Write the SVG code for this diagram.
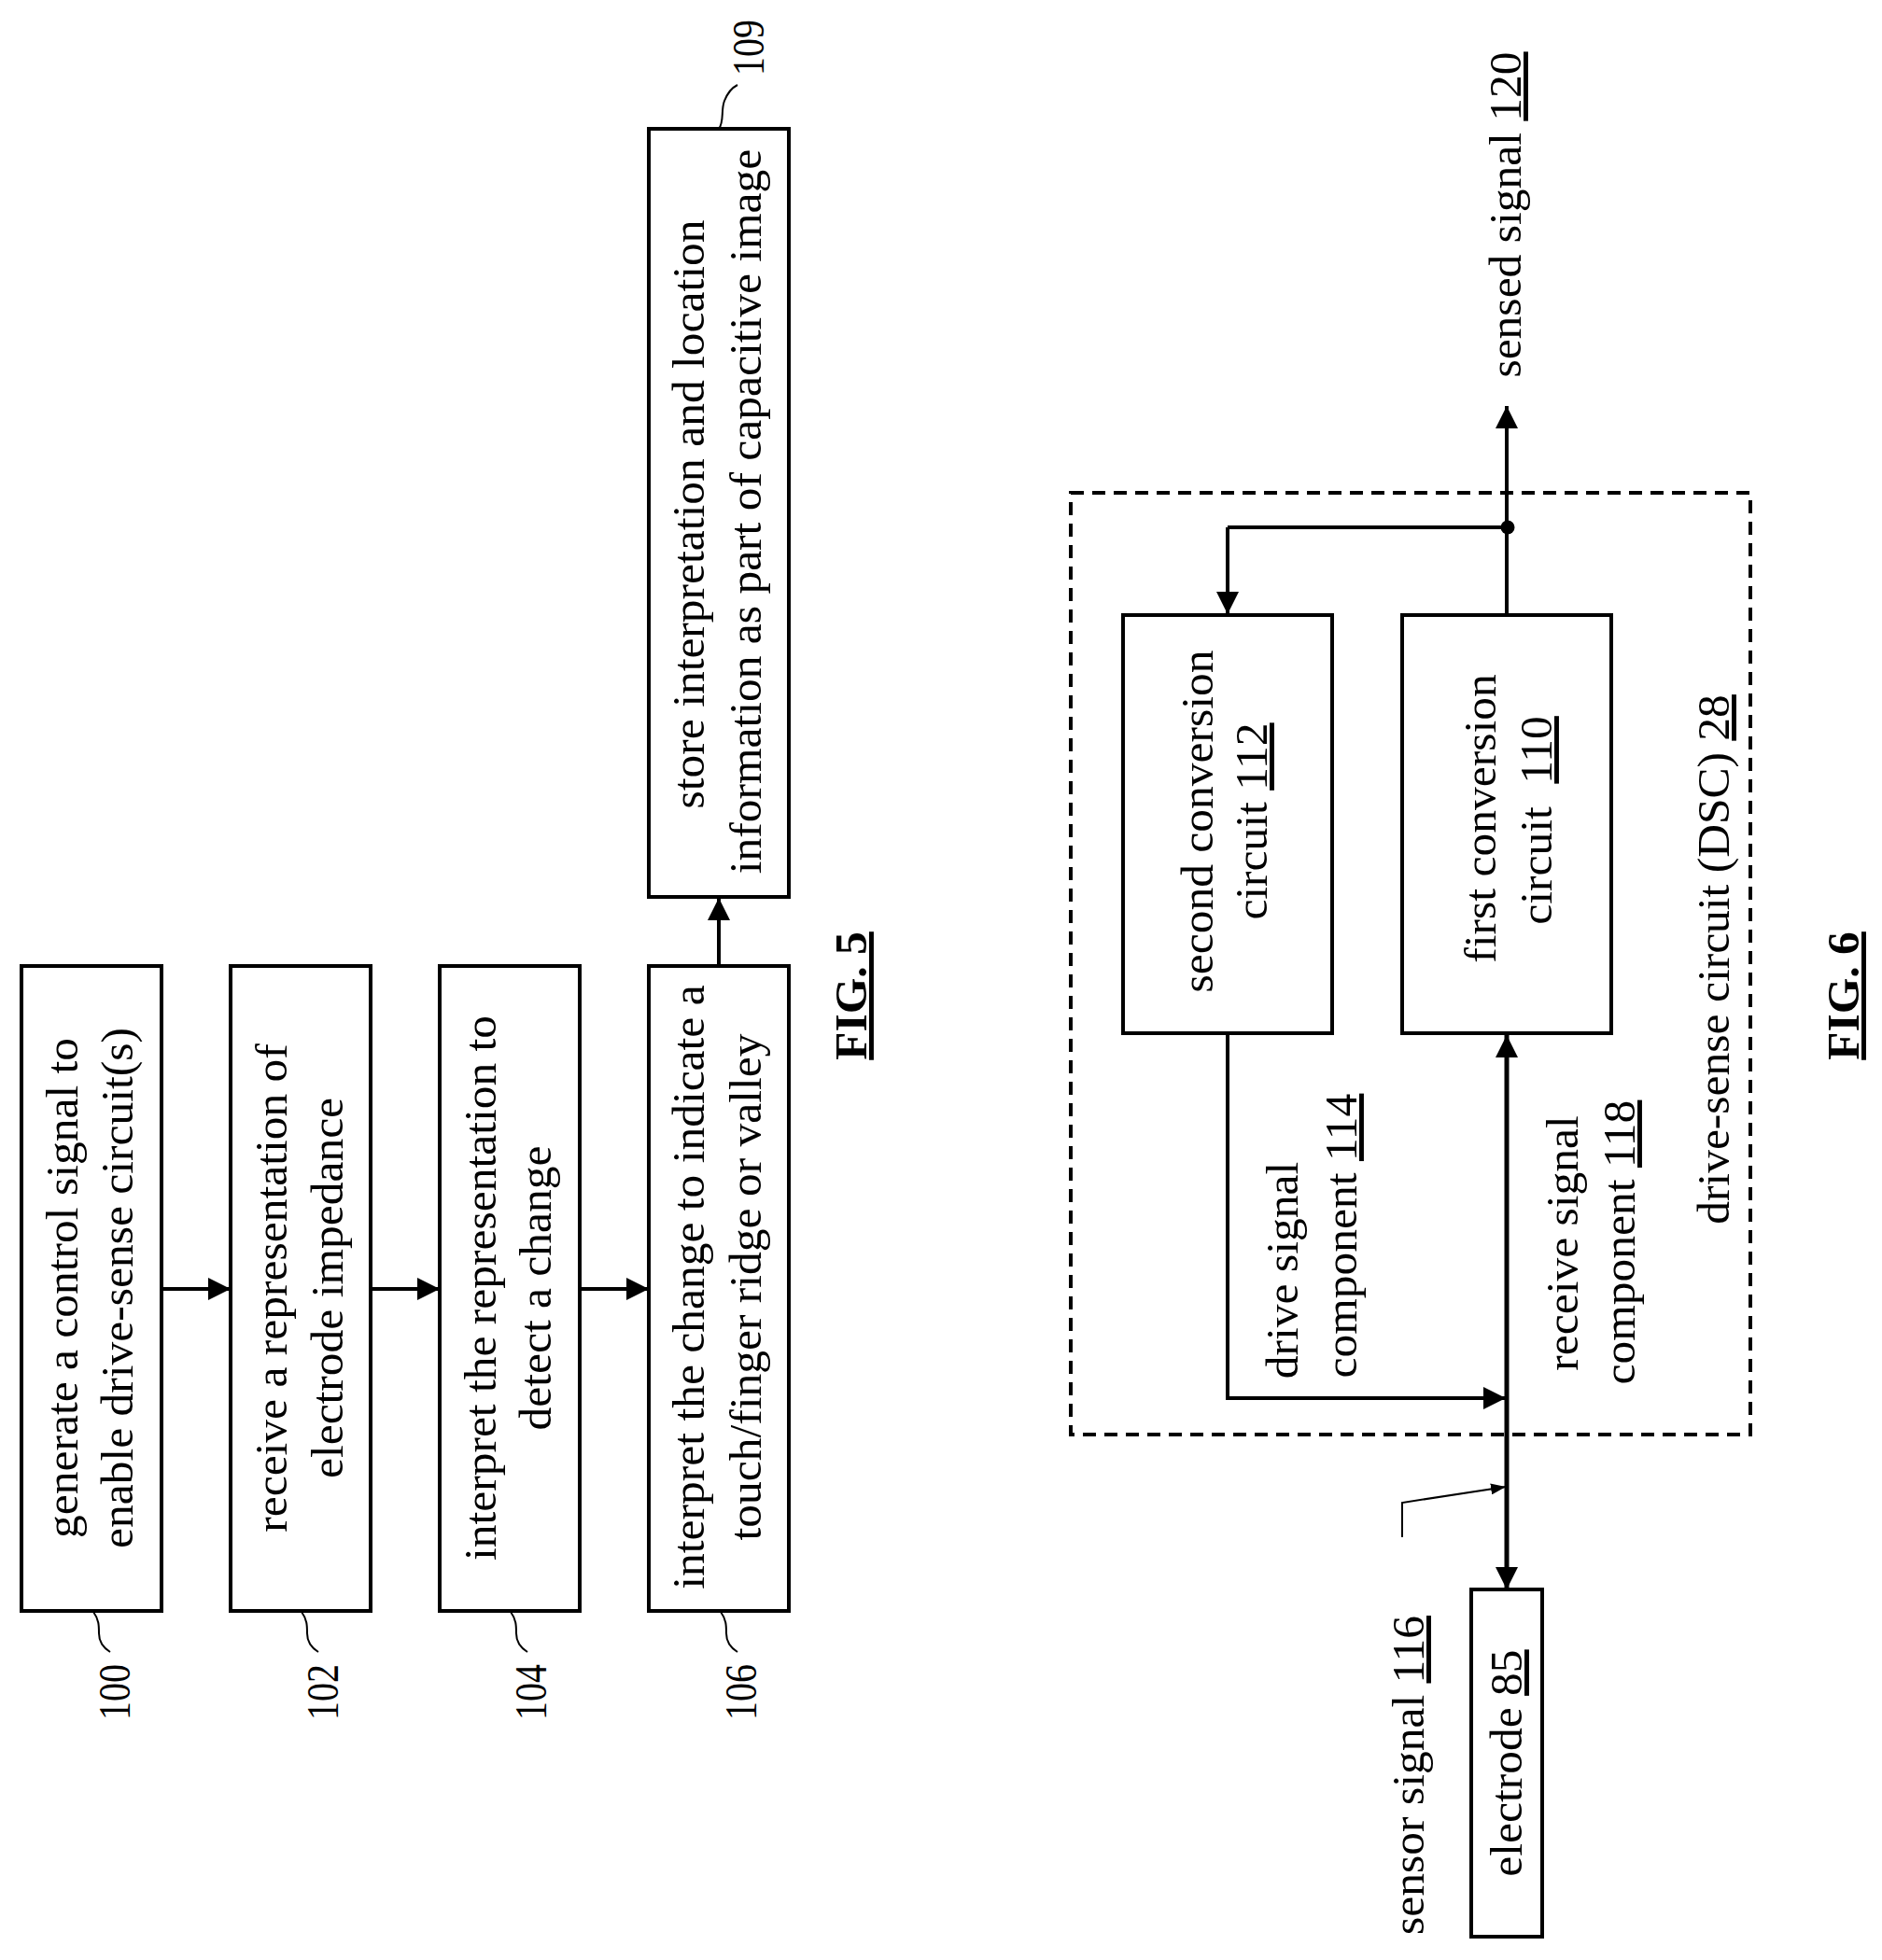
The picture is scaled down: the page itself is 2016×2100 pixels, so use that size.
<svg xmlns="http://www.w3.org/2000/svg" width="2016" height="2100" viewBox="0 0 2016 2100">
<style>
text{font-family:"Liberation Serif","Times New Roman",serif;font-size:49.5px;fill:#000;text-anchor:middle}
.b{fill:#fff;stroke:#000;stroke-width:4}
.c{fill:none;stroke:#000;stroke-width:4}
.t{fill:none;stroke:#000;stroke-width:2}
.m{stroke-width:5}
.u{text-decoration:underline}
.f{font-weight:bold;text-decoration:underline}
</style>
<defs>
<marker id="a" markerUnits="userSpaceOnUse" markerWidth="24" markerHeight="24" refX="24" refY="12" orient="auto-start-reverse"><path d="M0 0L24 12L0 24Z"/></marker>
<marker id="s" markerUnits="userSpaceOnUse" markerWidth="16" markerHeight="12" refX="16" refY="6" orient="auto"><path d="M0 0L16 6L0 12Z"/></marker>
</defs>
<rect width="2016" height="2100" fill="#fff"/>
<g id="connectors">
<path class="c" marker-end="url(#a)" d="M173 1381H247"/>
<path class="c" marker-end="url(#a)" d="M397 1381H471"/>
<path class="c" marker-end="url(#a)" d="M621 1381H695"/>
<path class="c" marker-end="url(#a)" d="M770 1036V962"/>
<path class="t" d="M100 1727c6 8 6 15 6 23c0 8 4 15 12 20"/>
<path class="t" d="M323 1727c6 8 6 15 6 23c0 8 4 15 12 20"/>
<path class="t" d="M547 1727c6 8 6 15 6 23c0 8 4 15 12 20"/>
<path class="t" d="M772 1727c6 8 6 15 6 23c0 8 4 15 12 20"/>
<path class="t" d="M770 138C776 130 772 118 776 108S784 94 790 91"/>
<path class="c" marker-end="url(#a)" d="M1614 658V435"/>
<path class="c" d="M1614 565H1315"/>
<path class="c" marker-end="url(#a)" d="M1315 565V658"/>
<circle cx="1615" cy="565" r="7.5"/>
<path class="c" marker-end="url(#a)" d="M1315 1107V1498H1613"/>
<path class="c m" marker-start="url(#a)" marker-end="url(#a)" d="M1614 1109V1703"/>
<path class="t" marker-end="url(#s)" d="M1502 1647V1610L1613 1593"/>
</g>
<g id="dsc-boundary"><rect x="1147" y="528" width="728" height="1009" fill="none" stroke="#000" stroke-width="4" stroke-dasharray="14 9"/>
<text transform="translate(1852 1028) rotate(-90)">drive-sense circuit (DSC) <tspan class="u">28</tspan></text></g>
<g id="n100"><rect class="b" x="23" y="1035" width="150" height="691"/>
<text transform="translate(83 1380) rotate(-90)">generate a control signal to</text>
<text transform="translate(142 1380) rotate(-90)">enable drive-sense circuit(s)</text>
<text transform="translate(139 1813) rotate(-90)" textLength="60" lengthAdjust="spacingAndGlyphs">100</text></g>
<g id="n102"><rect class="b" x="247" y="1035" width="150" height="691"/>
<text transform="translate(307 1380) rotate(-90)">receive a representation of</text>
<text transform="translate(367 1380) rotate(-90)">electrode impedance</text>
<text transform="translate(362 1813) rotate(-90)" textLength="60" lengthAdjust="spacingAndGlyphs">102</text></g>
<g id="n104"><rect class="b" x="471" y="1035" width="150" height="691"/>
<text transform="translate(531 1380) rotate(-90)">interpret the representation to</text>
<text transform="translate(590 1380) rotate(-90)">detect a change</text>
<text transform="translate(585 1813) rotate(-90)" textLength="60" lengthAdjust="spacingAndGlyphs">104</text></g>
<g id="n106"><rect class="b" x="695" y="1035" width="150" height="691"/>
<text transform="translate(754 1379) rotate(-90)">interpret the change to indicate a</text>
<text transform="translate(815 1379) rotate(-90)">touch/finger ridge or valley</text>
<text transform="translate(810 1813) rotate(-90)" textLength="60" lengthAdjust="spacingAndGlyphs">106</text></g>
<g id="n109"><rect class="b" x="695" y="138" width="150" height="823"/>
<text transform="translate(754 551) rotate(-90)">store interpretation and location</text>
<text transform="translate(815 548) rotate(-90)">information as part of capacitive image</text>
<text transform="translate(818 51) rotate(-90)" textLength="60" lengthAdjust="spacingAndGlyphs">109</text></g>
<g id="fig5"><text class="f" transform="translate(928 1067) rotate(-90)">FIG. 5</text></g>
<g id="n112"><rect class="b" x="1203" y="659" width="224" height="448"/>
<text transform="translate(1299 880) rotate(-90)">second conversion</text>
<text transform="translate(1357 880) rotate(-90)">circuit <tspan class="u">112</tspan></text></g>
<g id="n110"><rect class="b" x="1502" y="659" width="224" height="448"/>
<text transform="translate(1602 877) rotate(-90)">first conversion</text>
<text transform="translate(1662 879) rotate(-90)" xml:space="preserve">circuit  <tspan class="u">110</tspan></text></g>
<g id="n85"><rect class="b" x="1576" y="1703" width="76" height="372"/>
<text transform="translate(1630 1889) rotate(-90)">electrode <tspan class="u">85</tspan></text></g>
<g id="labels">
<text transform="translate(1629 230) rotate(-90)">sensed signal <tspan class="u">120</tspan></text>
<text transform="translate(1390 1361) rotate(-90)">drive signal</text>
<text transform="translate(1453 1324) rotate(-90)">component <tspan class="u">114</tspan></text>
<text transform="translate(1690 1332) rotate(-90)">receive signal</text>
<text transform="translate(1751 1331) rotate(-90)">component <tspan class="u">118</tspan></text>
<text transform="translate(1525 1902) rotate(-90)">sensor signal <tspan class="u">116</tspan></text>
</g>
<g id="fig6"><text class="f" transform="translate(1991 1067) rotate(-90)">FIG. 6</text></g>
</svg>
